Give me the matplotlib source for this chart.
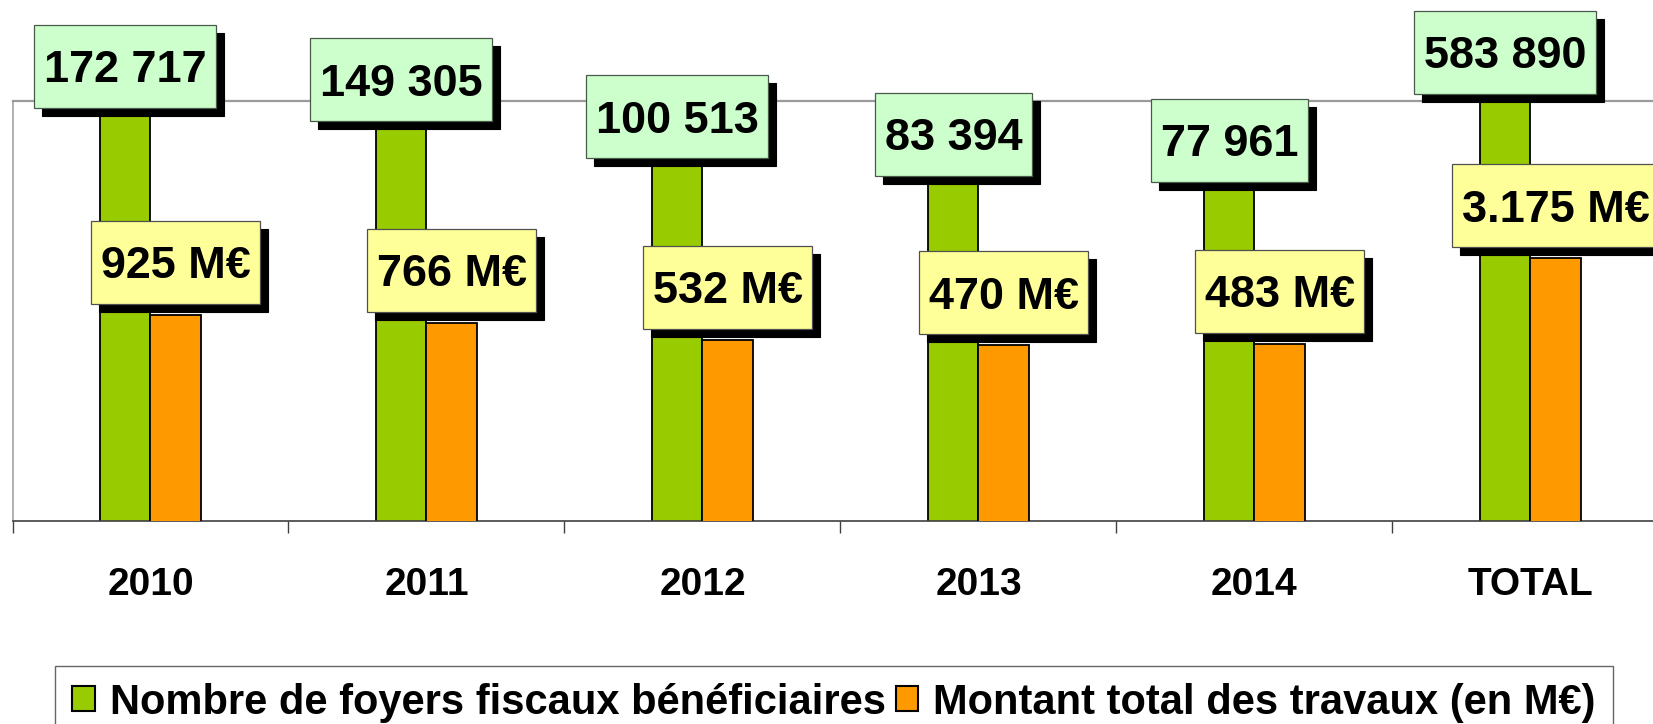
import matplotlib
matplotlib.use("Agg")
import matplotlib.pyplot as plt
from matplotlib.path import Path
from matplotlib.patches import Patch
from matplotlib.ticker import NullLocator, FixedLocator
import numpy as np

# Data
categories = ['2010', '2011', '2012', '2013', '2014', 'TOTAL']
foyers = [172717, 149305, 100513, 83394, 77961, 583890]
montants = [925, 766, 532, 470, 483, 3175]
foyers_labels = ['172 717', '149 305', '100 513', '83 394', '77 961', '583 890']
montants_labels = ['925 M€', '766 M€', '532 M€', '470 M€', '483 M€', '3.175 M€']
legend_labels = ['Nombre de foyers fiscaux bénéficiaires',
                 'Montant total des travaux (en M€)']

GREEN = '#99CC00'
ORANGE = '#FF9900'
GREEN_BOX = '#CCFFCC'
YELLOW_BOX = '#FFFF99'

W, H = 1653, 724
PT = 72.0 / 100  # pixels -> points at dpi 100
LABEL_SIZE = 45 * PT

plt.rcParams['font.family'] = ['Liberation Sans', 'DejaVu Sans']
plt.rcParams['font.weight'] = 'bold'


def label_box(x0, y0, width, height, mutation_size):
    # rectangle with its own padding: narrow sides, tall box
    padx = 0.215 * mutation_size
    half = 0.922 * mutation_size
    cy = y0 + height / 2 + 0.095 * mutation_size
    verts = [(x0 - padx, cy - half), (x0 + width + padx, cy - half),
             (x0 + width + padx, cy + half), (x0 - padx, cy + half),
             (x0 - padx, cy - half)]
    return Path(verts, closed=True)


fig = plt.figure(figsize=(W / 100, H / 100), dpi=100)
# plot area runs a little past the right edge of the picture
ax = fig.add_axes([12.5 / W, 1 - 521 / H, (1668.5 - 12.5) / W, (521 - 101) / H])
ax2 = ax.twinx()

x = np.arange(len(categories))
bw = 0.182

ax.set_yscale('log')
ax2.set_yscale('log')
ax.bar(x - bw / 2, foyers, width=bw, bottom=1, color=GREEN,
       edgecolor='black', linewidth=1.3, zorder=2)
ax2.bar(x + bw / 2, montants, width=bw, bottom=1, color=ORANGE,
        edgecolor='black', linewidth=1.3, zorder=2)
ax.set_ylim(2250, 2.0e5)
ax2.set_ylim(10, 1e5)
ax.set_xlim(-0.5, len(categories) - 0.5)

for a in (ax, ax2):
    a.yaxis.set_major_locator(NullLocator())
    a.yaxis.set_minor_locator(NullLocator())
    for s in a.spines.values():
        s.set_visible(False)

ax.spines['left'].set_visible(True)
ax.spines['left'].set_color('#B0B0B0')
ax.spines['left'].set_linewidth(1.4)
ax.spines['top'].set_visible(True)
ax.spines['top'].set_color('#9A9A9A')
ax.spines['top'].set_linewidth(1.6)
ax.spines['bottom'].set_visible(True)
ax.spines['bottom'].set_color('#404040')
ax.spines['bottom'].set_linewidth(1.2)

# ticks between categories, labels in the middle
ax.xaxis.set_major_locator(FixedLocator(np.arange(len(categories) + 1) - 0.5))
ax.xaxis.set_major_formatter(plt.NullFormatter())
ax.xaxis.set_minor_locator(FixedLocator(x))
ax.set_xticklabels(categories, minor=True)
ax.tick_params(axis='x', which='major', direction='out', length=8.4,
               width=1, color='#404040')
ax.tick_params(axis='x', which='minor', length=0, pad=33, labelsize=28)
for t in ax.get_xticklabels(minor=True):
    t.set_fontweight('bold')


def add_label(trans, xpos, ypos, text, face, edge, gap):
    dy = (gap + 37.2) * PT
    # black shadow first, then the box itself
    ax2.annotate(text, xy=(xpos, ypos), xycoords=trans,
                 xytext=(8 * PT, dy - 8 * PT), textcoords='offset points',
                 ha='center', va='center', fontsize=LABEL_SIZE,
                 fontweight='bold', color='black',
                 bbox=dict(boxstyle=label_box, fc='black', ec='black', lw=0.8),
                 annotation_clip=False, zorder=5)
    ax2.annotate(text, xy=(xpos, ypos), xycoords=trans,
                 xytext=(0, dy), textcoords='offset points',
                 ha='center', va='center', fontsize=LABEL_SIZE,
                 fontweight='bold', color='black',
                 bbox=dict(boxstyle=label_box, fc=face, ec=edge, lw=0.9),
                 annotation_clip=False, zorder=6)


gtop = ax.get_ylim()[1]
otop = ax2.get_ylim()[1]
for i in range(len(categories)):
    add_label(ax.transData, x[i] - bw / 2, min(foyers[i], gtop),
              foyers_labels[i], GREEN_BOX, '#4A5A4A', 7)
    add_label(ax2.transData, x[i] + bw / 2, min(montants[i], otop),
              montants_labels[i], YELLOW_BOX, '#505050', 11)

handles = [Patch(facecolor=GREEN, edgecolor='black', linewidth=1.5),
           Patch(facecolor=ORANGE, edgecolor='black', linewidth=1.5)]
leg = fig.legend(handles, legend_labels, loc='upper left',
                 bbox_to_anchor=(55 / W, 1 - 666 / H), ncol=2,
                 prop={'size': 30, 'weight': 'bold'},
                 frameon=True, fancybox=False, borderaxespad=0,
                 handlelength=0.55, handleheight=0.55, handletextpad=0.36,
                 columnspacing=0.24, borderpad=0.4)
leg.get_frame().set_edgecolor('#404040')
leg.get_frame().set_linewidth(1.0)

fig.savefig('out.png', dpi=100)
